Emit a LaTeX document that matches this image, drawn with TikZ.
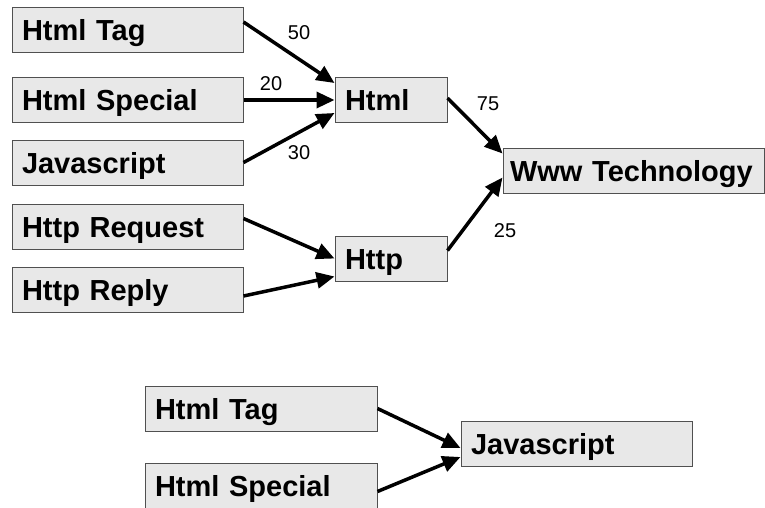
\documentclass[tikz,border=0pt]{standalone}
\usepackage{fontspec}
\setmainfont{Liberation Sans}
\usetikzlibrary{arrows.meta}

\definecolor{boxfill}{HTML}{E8E8E8}
\definecolor{boxline}{HTML}{505050}

\begin{document}
\begin{tikzpicture}[
  x=1pt, y=-1pt,
  box/.style={draw=boxline, fill=boxfill, line width=1pt, minimum height=45pt,
    inner xsep=10pt, inner ysep=0pt, text width=#1, align=left,
    text height=21pt, text depth=0pt,
    font=\fontsize{29}{31}\selectfont\bfseries},
  box/.default=211pt,
  link/.style={line width=3.5pt, -{Triangle[length=18pt,width=16pt]}},
  weight/.style={font=\fontsize{20}{22}\selectfont, inner sep=0pt}
]
\useasboundingbox (0,0) rectangle (765,507);

% upper net
\node[box] (tag) at (127.5,30) {Html Tag};
\node[box] (special) at (127.5,100) {Html Special};
\node[box] (js) at (127.5,162.5) {Javascript};
\node[box] (request) at (127.5,226.5) {Http Request};
\node[box] (reply) at (127.5,290) {Http Reply};
\node[box=92pt] (html) at (391,100) {Html};
\node[box=92pt] (http) at (391,258.5) {Http};
\node[box=247pt, inner xsep=7pt] (www) at (633.5,170.5) {Www Technology};

\draw[link] ([yshift=8pt]tag.east) -- ([yshift=17pt]html.west);
\draw[link] (special.east) -- (html.west);
\draw[link] (js.east) -- ([yshift=-13pt]html.west);
\draw[link] ([yshift=2pt]html.east) -- ([yshift=17pt]www.west);
\draw[link] ([yshift=8pt]http.east) -- ([yshift=-7pt]www.west);
\draw[link] ([yshift=8pt]request.east) -- (http.west);
\draw[link] ([yshift=-6pt]reply.east) -- ([yshift=-18pt]http.west);

\node[weight] (w50) at (299,33) {50};
\node[weight] (w20) at (271,84) {20};
\node[weight] (w30) at (299,153) {30};
\node[weight] (w75) at (488,104) {75};
\node[weight] (w25) at (505,231) {25};

% lower net
\node[box=212pt] (tag2) at (261,408.5) {Html Tag};
\node[box=212pt] (special2) at (261,485.5) {Html Special};
\node[box] (js2) at (576.5,444) {Javascript};

\draw[link] (tag2.east) -- ([yshift=-4pt]js2.west);
\draw[link] ([yshift=-6pt]special2.east) -- ([yshift=-13pt]js2.west);

\end{tikzpicture}
\end{document}
